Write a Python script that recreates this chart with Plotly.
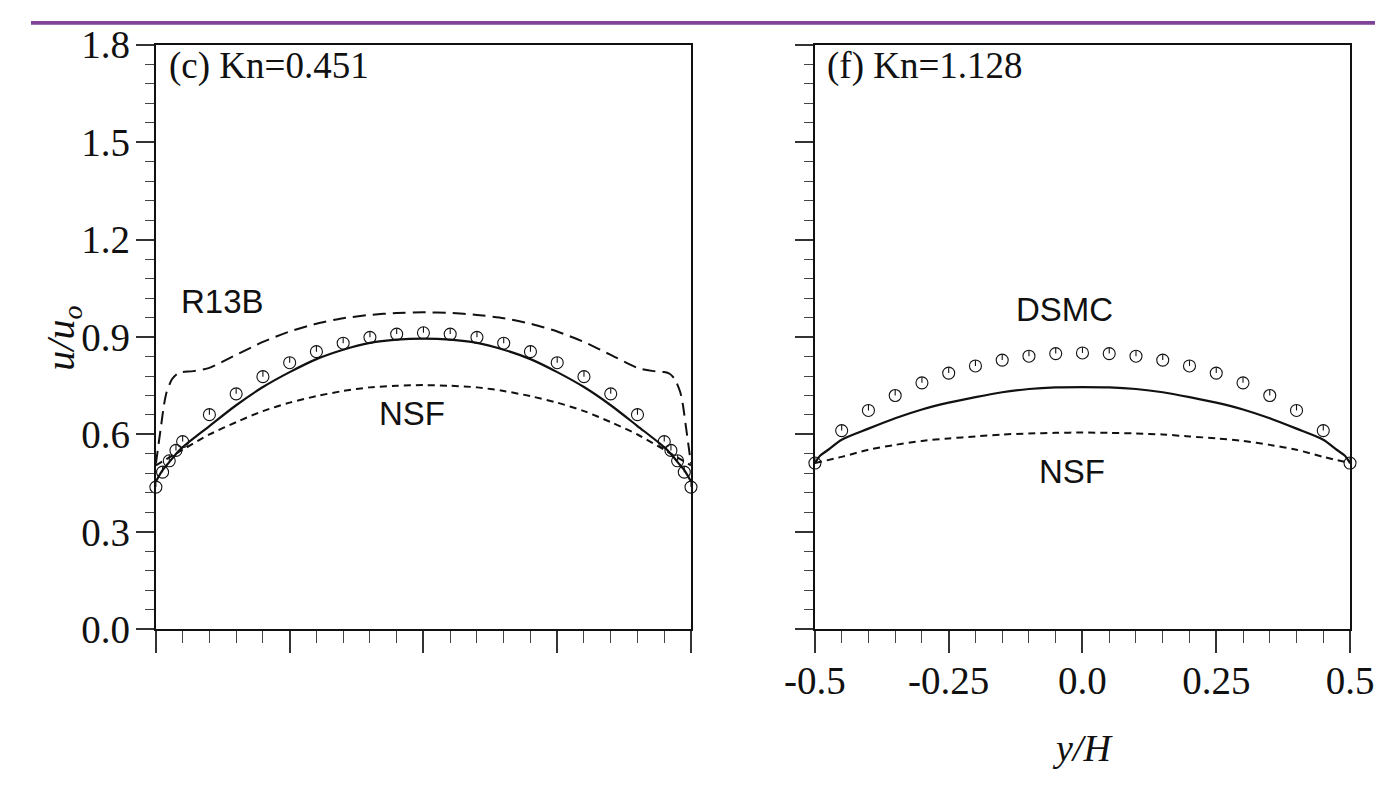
import plotly.graph_objects as go

W, H = 1399, 799

# ---------------- panel (c): Kn = 0.451 ----------------
c_dsmc_y = [-0.5, -0.4875, -0.475, -0.4625, -0.45, -0.4, -0.35, -0.3, -0.25, -0.2, -0.15, -0.1, -0.05, 0.0,
            0.05, 0.1, 0.15, 0.2, 0.25, 0.3, 0.35, 0.4, 0.45, 0.4625, 0.475, 0.4875, 0.5]
c_dsmc_u = [0.438, 0.484, 0.519, 0.551, 0.578, 0.661, 0.725, 0.778, 0.821, 0.855, 0.881, 0.899, 0.909, 0.913,
            0.909, 0.899, 0.881, 0.855, 0.821, 0.778, 0.725, 0.661, 0.578, 0.551, 0.519, 0.484, 0.438]

c_r13_y = [-0.5, -0.4875, -0.475, -0.4625, -0.45, -0.4, -0.35, -0.3, -0.25, -0.2, -0.15, -0.1, -0.05, 0.0,
           0.05, 0.1, 0.15, 0.2, 0.25, 0.3, 0.35, 0.4, 0.45, 0.4625, 0.475, 0.4875, 0.5]
c_r13_u = [0.455, 0.490, 0.515, 0.540, 0.561, 0.626, 0.690, 0.746, 0.792, 0.832, 0.861, 0.882, 0.892, 0.895,
           0.892, 0.882, 0.861, 0.832, 0.792, 0.746, 0.690, 0.626, 0.561, 0.540, 0.515, 0.490, 0.455]

c_r13b_y = [-0.5, -0.495, -0.49, -0.485, -0.48, -0.47, -0.46, -0.45, -0.43, -0.4, -0.35, -0.3, -0.25, -0.2,
            -0.15, -0.1, -0.05, 0.0, 0.05, 0.1, 0.15, 0.2, 0.25, 0.3, 0.35, 0.4, 0.43, 0.45, 0.46, 0.47,
            0.48, 0.485, 0.49, 0.495, 0.5]
c_r13b_u = [0.510, 0.570, 0.630, 0.690, 0.730, 0.770, 0.787, 0.792, 0.795, 0.805, 0.845, 0.885, 0.917, 0.941,
            0.958, 0.968, 0.974, 0.976, 0.974, 0.968, 0.958, 0.941, 0.917, 0.885, 0.845, 0.805, 0.795, 0.792,
            0.787, 0.770, 0.730, 0.690, 0.630, 0.570, 0.510]

c_nsf_y = [-0.5, -0.45, -0.4, -0.35, -0.3, -0.25, -0.2, -0.15, -0.1, -0.05, 0.0,
           0.05, 0.1, 0.15, 0.2, 0.25, 0.3, 0.35, 0.4, 0.45, 0.5]
c_nsf_u = [0.505, 0.553, 0.600, 0.638, 0.672, 0.698, 0.718, 0.734, 0.745, 0.750, 0.752,
           0.750, 0.745, 0.734, 0.718, 0.698, 0.672, 0.638, 0.600, 0.553, 0.505]

# ---------------- panel (f): Kn = 1.128 ----------------
f_dsmc_y = [-0.5, -0.45, -0.4, -0.35, -0.3, -0.25, -0.2, -0.15, -0.1, -0.05, 0.0,
            0.05, 0.1, 0.15, 0.2, 0.25, 0.3, 0.35, 0.4, 0.45, 0.5]
f_dsmc_u = [0.512, 0.612, 0.674, 0.720, 0.759, 0.789, 0.811, 0.829, 0.841, 0.849, 0.851,
            0.849, 0.841, 0.829, 0.811, 0.789, 0.759, 0.720, 0.674, 0.612, 0.512]

f_r13_y = [-0.5, -0.49, -0.475, -0.45, -0.4, -0.35, -0.3, -0.25, -0.2, -0.15, -0.1, -0.05, 0.0,
           0.05, 0.1, 0.15, 0.2, 0.25, 0.3, 0.35, 0.4, 0.45, 0.475, 0.49, 0.5]
f_r13_u = [0.512, 0.535, 0.553, 0.584, 0.618, 0.650, 0.677, 0.698, 0.715, 0.730, 0.740, 0.745, 0.746,
           0.745, 0.740, 0.730, 0.715, 0.698, 0.677, 0.650, 0.618, 0.584, 0.553, 0.535, 0.512]

f_nsf_y = [-0.5, -0.45, -0.4, -0.35, -0.3, -0.25, -0.2, -0.15, -0.1, -0.05, 0.0,
           0.05, 0.1, 0.15, 0.2, 0.25, 0.3, 0.35, 0.4, 0.45, 0.5]
f_nsf_u = [0.512, 0.531, 0.553, 0.568, 0.580, 0.588, 0.594, 0.600, 0.603, 0.605, 0.606,
           0.605, 0.603, 0.600, 0.594, 0.588, 0.580, 0.568, 0.553, 0.531, 0.512]

# axis tick labels
x_tick_vals = [-0.5, -0.25, 0.0, 0.25, 0.5]
x_tick_text = ["-0.5", "-0.25", "0.0", "0.25", "0.5"]
y_tick_vals = [0.0, 0.3, 0.6, 0.9, 1.2, 1.5, 1.8]
y_tick_text = ["0.0", "0.3", "0.6", "0.9", "1.2", "1.5", "1.8"]

SERIF = "Liberation Serif, Times New Roman, serif"
SANS = "Liberation Sans, Arial, sans-serif"
INK = "#111111"

# plot-area placement (pixels)
L_X0, L_X1 = 130, 687
R_X0, R_X1 = 816, 1373
Y_TOP, Y_BOT = 25, 643
Y_MAX = 1.8

MARKER_SIZE = 12
# stem inside each DSMC circle: from the centre up to the rim
stem = (MARKER_SIZE / 2) / ((Y_BOT - Y_TOP) / Y_MAX)

fig = go.Figure()


def add_panel(xa, ya, dsmc_y, dsmc_u, r13_y, r13_u, nsf_y, nsf_u, r13b_y=None, r13b_u=None):
    if r13b_y is not None:
        fig.add_trace(go.Scatter(x=r13b_y, y=r13b_u, mode="lines", xaxis=xa, yaxis=ya,
                                 line=dict(color=INK, width=2, dash="13px,7px", shape="spline",
                                           smoothing=0.6),
                                 showlegend=False, hoverinfo="skip"))
    fig.add_trace(go.Scatter(x=nsf_y, y=nsf_u, mode="lines", xaxis=xa, yaxis=ya,
                             line=dict(color=INK, width=2, dash="7px,5px", shape="spline", smoothing=0.8),
                             showlegend=False, hoverinfo="skip"))
    fig.add_trace(go.Scatter(x=r13_y, y=r13_u, mode="lines", xaxis=xa, yaxis=ya,
                             line=dict(color=INK, width=2.2, shape="spline", smoothing=0.8),
                             showlegend=False, hoverinfo="skip"))
    fig.add_trace(go.Scatter(x=dsmc_y, y=dsmc_u, mode="markers", xaxis=xa, yaxis=ya, cliponaxis=False,
                             marker=dict(symbol="circle-open", size=MARKER_SIZE, color=INK,
                                         line=dict(color=INK, width=1.1)),
                             error_y=dict(type="data", symmetric=False, array=[stem] * len(dsmc_y),
                                          arrayminus=[0] * len(dsmc_y), width=0, thickness=1.1,
                                          color=INK),
                             showlegend=False, hoverinfo="skip"))


add_panel("x", "y", c_dsmc_y, c_dsmc_u, c_r13_y, c_r13_u, c_nsf_y, c_nsf_u, c_r13b_y, c_r13b_u)
add_panel("x2", "y2", f_dsmc_y, f_dsmc_u, f_r13_y, f_r13_u, f_nsf_y, f_nsf_u)


def x_axis(x0, x1, anchor, labels):
    return dict(domain=[x0 / W, x1 / W], anchor=anchor, range=[-0.5, 0.5],
                showline=True, linecolor=INK, linewidth=2, mirror=True,
                showgrid=False, zeroline=False,
                tickmode="array", tickvals=x_tick_vals, ticktext=x_tick_text,
                ticks="outside", ticklen=22, tickwidth=1.5, tickcolor="#333333",
                showticklabels=labels, ticklabelstandoff=-6,
                tickfont=dict(family=SERIF, size=39, color=INK),
                minor=dict(tickmode="linear", tick0=-0.5, dtick=0.05, ticks="outside",
                           ticklen=12, tickwidth=1.3, tickcolor="#444444", showgrid=False))


def y_axis(anchor, labels):
    return dict(domain=[1 - Y_BOT / H, 1 - Y_TOP / H], anchor=anchor, range=[0, Y_MAX],
                showline=True, linecolor=INK, linewidth=2, mirror=True,
                showgrid=False, zeroline=False,
                tickmode="array", tickvals=y_tick_vals, ticktext=y_tick_text,
                ticks="outside", ticklen=18, tickwidth=1.5, tickcolor="#333333",
                showticklabels=labels, ticklabelstandoff=-2,
                tickfont=dict(family=SERIF, size=39, color=INK),
                minor=dict(tickmode="linear", tick0=0, dtick=0.06, ticks="outside",
                           ticklen=9, tickwidth=1.3, tickcolor="#444444", showgrid=False))


fig.update_layout(
    width=W, height=H,
    margin=dict(l=0, r=0, t=0, b=0),
    paper_bgcolor="white", plot_bgcolor="white",
    xaxis=x_axis(L_X0, L_X1, "y", False),
    yaxis=y_axis("x", True),
    xaxis2=x_axis(R_X0, R_X1, "y2", True),
    yaxis2=y_axis("x2", False),
)

annotations = [
    dict(xref="x", yref="y", x=-0.479, y=1.733, text="(c) Kn=0.451", xanchor="left", yanchor="middle",
         font=dict(family=SERIF, size=37, color=INK)),
    dict(xref="x2", yref="y2", x=-0.482, y=1.733, text="(f) Kn=1.128", xanchor="left", yanchor="middle",
         font=dict(family=SERIF, size=37, color=INK)),
    dict(xref="x", yref="y", x=-0.376, y=1.008, text="R13B", xanchor="center", yanchor="middle",
         font=dict(family=SANS, size=33, color=INK)),
    dict(xref="x", yref="y", x=-0.021, y=0.664, text="NSF", xanchor="center", yanchor="middle",
         font=dict(family=SANS, size=33, color=INK)),
    dict(xref="x2", yref="y2", x=-0.034, y=0.985, text="DSMC", xanchor="center", yanchor="middle",
         font=dict(family=SANS, size=33, color=INK)),
    dict(xref="x2", yref="y2", x=-0.019, y=0.485, text="NSF", xanchor="center", yanchor="middle",
         font=dict(family=SANS, size=33, color=INK)),
    dict(xref="paper", yref="paper", x=33 / W, y=1 - 335 / H, text="<i>u/u<sub>o</sub></i>",
         textangle=-90, xanchor="center", yanchor="middle",
         font=dict(family=SERIF, size=40, color=INK)),
    dict(xref="paper", yref="paper", x=1095 / W, y=1 - 768 / H, text="<i>y/H</i>",
         xanchor="center", yanchor="middle",
         font=dict(family=SERIF, size=38, color=INK)),
]
for a in annotations:
    a["showarrow"] = False
fig.update_layout(annotations=annotations)

# thin header band across the top of the page
fig.add_shape(type="rect", xref="paper", yref="paper", x0=0, x1=1, y0=1 - 4 / H, y1=1,
              fillcolor="#7f4397", line=dict(width=0), layer="above")

fig.write_html("out.html")
